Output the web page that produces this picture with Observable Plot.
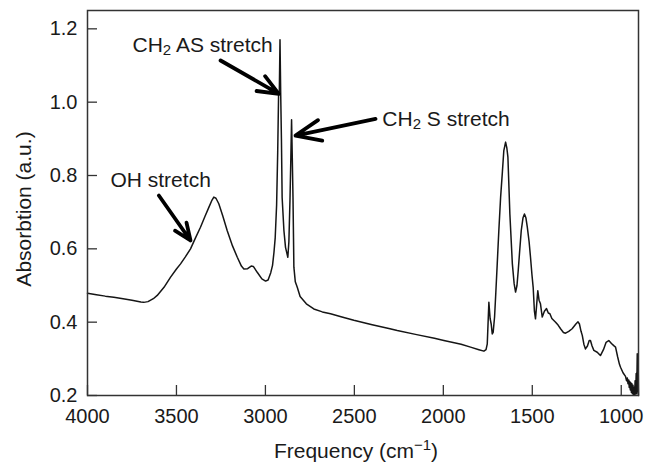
<!DOCTYPE html>
<html><head><meta charset="utf-8">
<script src="https://cdn.jsdelivr.net/npm/d3@7"></script>
<script src="https://cdn.jsdelivr.net/npm/@observablehq/plot@0.6"></script>
<style>
body{margin:0;background:#fff}
svg{font-family:"Liberation Sans",Arial,Helvetica,sans-serif}
</style>
</head><body><div id="chart"></div>
<script>
// IR spectrum (wavenumber cm-1, absorption a.u.)
const wavenumber = [4000,3950,3900,3852,3800,3750,3700,3684,3660,3630,3608,3570,3533,3500,3477,3450,3421,3393,3365,3340,3318,3300,3290,3278,3262,3240,3215,3185,3158,3135,3121,3100,3080,3068,3046,3020,2999,2985,2970,2960,2952,2945,2937,2931,2926,2922,2918,2914,2910,2906,2896,2887,2874,2868,2862,2857,2853,2849,2845,2840,2832,2821,2805,2770,2728,2680,2634,2570,2503,2400,2300,2259,2150,2050,1997,1900,1847,1800,1772,1760,1753,1744,1737,1731,1725,1720,1712,1705,1697,1688,1678,1668,1660,1650,1643,1637,1626,1612,1602,1594,1586,1579,1570,1562,1552,1544,1536,1528,1518,1510,1502,1495,1488,1482,1475,1469,1462,1454,1444,1432,1420,1410,1401,1390,1369,1355,1341,1325,1313,1295,1276,1255,1243,1235,1226,1219,1210,1201,1190,1180,1173,1164,1154,1135,1117,1100,1085,1070,1055,1042,1032,1020,1010,1004,990,976,970,966,962,958,955,952,949,946,943,940,937,934,931,928,925,922,919,916,913,910,907,905,903];
const absorption = [0.479,0.475,0.471,0.468,0.464,0.460,0.455,0.454,0.456,0.464,0.473,0.495,0.523,0.545,0.559,0.578,0.600,0.630,0.659,0.688,0.713,0.733,0.741,0.738,0.723,0.690,0.650,0.608,0.577,0.553,0.545,0.546,0.553,0.552,0.536,0.518,0.512,0.515,0.535,0.555,0.590,0.630,0.720,0.862,1.020,1.020,1.170,1.020,0.900,0.740,0.650,0.604,0.577,0.620,0.732,0.850,0.952,0.850,0.741,0.550,0.510,0.495,0.470,0.450,0.436,0.428,0.423,0.414,0.405,0.393,0.382,0.377,0.366,0.356,0.350,0.340,0.332,0.325,0.321,0.325,0.341,0.454,0.410,0.395,0.368,0.372,0.414,0.480,0.559,0.650,0.741,0.810,0.868,0.891,0.875,0.850,0.695,0.559,0.505,0.482,0.500,0.541,0.600,0.650,0.685,0.695,0.685,0.659,0.620,0.577,0.530,0.495,0.430,0.409,0.450,0.486,0.460,0.450,0.414,0.430,0.437,0.425,0.423,0.410,0.400,0.392,0.382,0.372,0.370,0.375,0.382,0.395,0.401,0.395,0.375,0.364,0.340,0.327,0.335,0.350,0.350,0.335,0.323,0.318,0.309,0.325,0.345,0.350,0.342,0.336,0.332,0.305,0.285,0.277,0.262,0.252,0.240,0.248,0.232,0.242,0.222,0.238,0.215,0.235,0.208,0.232,0.205,0.228,0.203,0.222,0.202,0.240,0.204,0.260,0.205,0.314,0.210,0.290,0.200];

const xTicks = [4000,3500,3000,2500,2000,1500,1000];
const yTicks = [0.2,0.4,0.6,0.8,1.0,1.2];
const xDomain = [4000, 903];
const yDomain = [0.2, 1.25];

const labelText = ["CH2 AS stretch", "CH2 S stretch", "OH stretch"];
const labelX = [3747, 2343, 3871];
const labelY = [1.1545, 0.9527, 0.786];
const arrowX1 = [3252, 2381, 3599];
const arrowY1 = [1.1136, 0.9546, 0.7454];
const arrowX2 = [2925, 2831, 3421];
const arrowY2 = [1.0227, 0.909, 0.6227];

const spectrum = wavenumber.map((w, i) => ({w, a: absorption[i]}));
const labels = labelText.map((t, i) => ({t, x: labelX[i], y: labelY[i]}));
const arrows = arrowX1.map((x1, i) => ({x1, y1: arrowY1[i], x2: arrowX2[i], y2: arrowY2[i]}));

const W = 657, H = 463, mL = 87, mR = 19, mT = 10, mB = 68;
const innerW = W - mL - mR, innerH = H - mT - mB;
const tickLen = 10;

const svg = Plot.plot({
  width: W, height: H,
  marginLeft: mL, marginRight: mR, marginTop: mT, marginBottom: mB,
  style: {fontSize: "20px", color: "#1a1a1a", background: "#fff", fontFamily: '"Liberation Sans", Arial, sans-serif'},
  x: {domain: xDomain},
  y: {domain: yDomain},
  marks: [
    Plot.axisX({ticks: xTicks, tickSize: 0, tickPadding: 13, label: null, fontSize: 20, tickFormat: d3.format("d")}),
    Plot.axisY({ticks: yTicks, tickSize: 0, tickPadding: 10, label: null, fontSize: 20, tickFormat: d3.format(".1f")}),
    Plot.tickX(xTicks, {x: d => d, insetTop: innerH - tickLen, stroke: "#333", strokeWidth: 1.3}),
    Plot.tickY(yTicks, {y: d => d, insetRight: innerW - tickLen, stroke: "#333", strokeWidth: 1.3}),
    Plot.line(spectrum, {x: "w", y: "a", stroke: "#151515", strokeWidth: 1.5, curve: "linear"}),
    Plot.arrow(arrows, {x1: "x1", y1: "y1", x2: "x2", y2: "y2", stroke: "#000", strokeWidth: 3.8, headLength: 18, headAngle: 45}),
    Plot.text(labels, {x: "x", y: "y", text: "t", textAnchor: "start", lineAnchor: "middle", fontSize: 21, fill: "#1a1a1a"}),
    Plot.frame({stroke: "#333", strokeWidth: 1.5})
  ]
});

const s = d3.select(svg);
// subscripts in CH2 labels
s.selectAll("text").each(function() {
  const t = this.textContent;
  if (t.startsWith("CH2")) {
    const el = d3.select(this);
    el.text(null);
    el.append("tspan").text("CH");
    el.append("tspan").attr("dy", 3).attr("font-size", 15).text("2");
    el.append("tspan").attr("dy", -3).text(t.slice(3));
  }
});
// x axis label
const xl = s.append("text").attr("x", 356).attr("y", 458).attr("text-anchor", "middle")
  .attr("font-size", 21).attr("fill", "#1a1a1a");
xl.append("tspan").text("Frequency (cm");
xl.append("tspan").attr("dy", -8).attr("font-size", 15).text("\u22121");
xl.append("tspan").attr("dy", 8).text(")");
// y axis label
s.append("text").attr("transform", "translate(31,209) rotate(-90)").attr("text-anchor", "middle")
  .attr("font-size", 21).attr("fill", "#1a1a1a").text("Absorbtion (a.u.)");

document.getElementById("chart").appendChild(svg);
</script>
</body></html>
